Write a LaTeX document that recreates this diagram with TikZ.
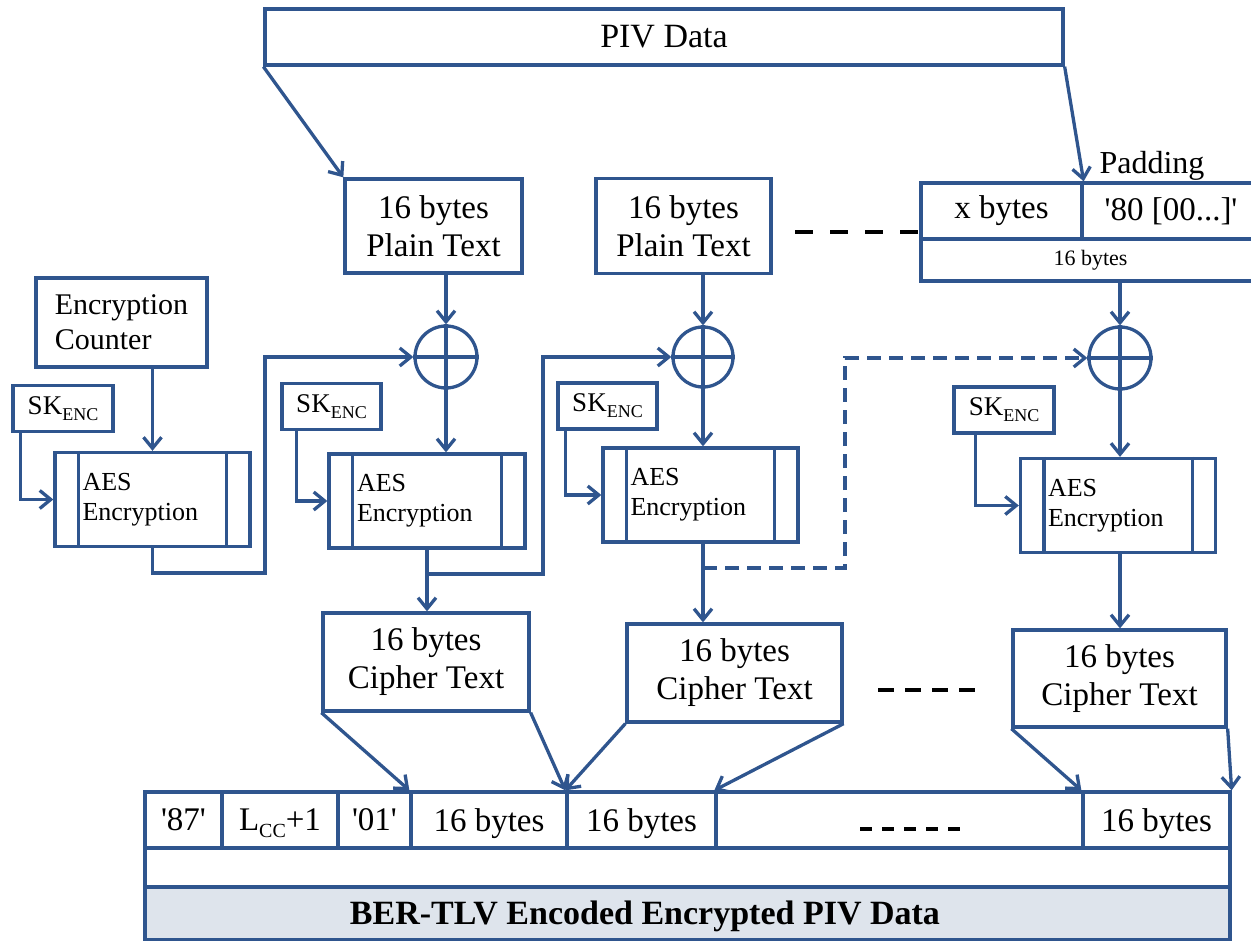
\documentclass[tikz,border=0pt]{standalone}
\usepackage{fontspec}
\setmainfont{Liberation Serif}
\usetikzlibrary{arrows.meta}
\definecolor{bl}{RGB}{47,85,142}
\definecolor{gb}{RGB}{222,228,236}
\newcommand\sq{\textquotesingle}
\newcommand\fs[2]{\fontsize{#1}{#2}\selectfont}
\begin{document}
\begin{tikzpicture}[x=1pt,y=-1pt,
  box/.style={draw=bl, line width=3.3pt, inner sep=0pt, fill=white, align=center, font=\fs{33}{38}},
  skbox/.style={box, minimum height=46pt, minimum width=100pt, font=\fs{27}{30}},
  aesbox/.style={box, minimum width=195pt, minimum height=94pt, text width=140pt, inner xsep=27.5pt, align=left, font=\fs{26}{30}},
  xorc/.style={circle, draw=bl, line width=3.3pt, minimum size=62pt, inner sep=0pt},
  cell/.style={box, minimum height=56pt, text depth=0pt},
  conn/.style={draw=bl, line width=3.3pt},
  arr/.style={conn, -{Straight Barb[length=11pt,width=18pt]}},
  bdash/.style={draw=bl, line width=3.3pt, dash pattern=on 14pt off 8pt},
  kdash/.style={draw=black, line width=3.5pt}
]
\useasboundingbox (0,0) rectangle (1251,941);

% top data block
\node[box, minimum width=798pt, minimum height=56pt, font=\fs{34}{38}] (piv) at (664,37) {PIV Data};

% plain text blocks
\node[box, minimum width=177pt, minimum height=94pt] (p1) at (433.5,226) {16 bytes\\Plain Text};
\node[box, minimum width=175pt, minimum height=95pt] (p2) at (683.5,226) {16 bytes\\Plain Text};

% padding block
\node[box, minimum width=339pt, minimum height=42pt, font=\fs{22}{26}] (pad16) at (1090.5,260) {16 bytes};
\node[box, minimum width=161pt, minimum height=56pt] (padx) at (1001.5,211) {x bytes};
\node[box, minimum width=178pt, minimum height=56pt] (pad80) at (1171,211) {\sq80 [00...]\sq};
\node[font=\fs{32}{36}, inner sep=0pt] (padlbl) at (1152,166) {Padding};

% counter
\node[box, minimum width=171pt, minimum height=89pt, align=left, font=\fs{30}{35}] (cnt) at (121.5,322.5) {Encryption\\Counter};

% key boxes
\newcommand\skenc{SK{\fs{18}{18}\raisebox{-6pt}{ENC}}}
\node[skbox] (sk1) at (63,408.5) {\skenc};
\node[skbox, minimum width=99pt] (sk2) at (331.5,406.5) {\skenc};
\node[skbox, minimum width=99pt] (sk3) at (607.5,406) {\skenc};
\node[skbox] (sk4) at (1004,410) {\skenc};

% AES blocks
\node[aesbox] (aes1) at (152.5,499.5) {AES\\Encryption};
\node[aesbox, minimum width=196pt] (aes2) at (427,501) {AES\\Encryption};
\node[aesbox] (aes3) at (700.5,495) {AES\\Encryption};
\node[aesbox, minimum width=194pt] (aes4) at (1118,505.5) {AES\\Encryption};
\foreach \a in {aes1,aes2,aes3,aes4}{
  \draw[conn] ([xshift=25pt]\a.north west) -- ([xshift=25pt]\a.south west);
  \draw[conn] ([xshift=-25pt]\a.north east) -- ([xshift=-25pt]\a.south east);
}

% XOR circles
\node[xorc] (c1) at (446,357) {};
\node[xorc, minimum size=60pt] (c2) at (703,357) {};
\node[xorc] (c3) at (1120,358) {};
\foreach \c in {c1,c2,c3}{
  \draw[conn] (\c.north) -- (\c.south) (\c.west) -- (\c.east);
}

% cipher text blocks
\node[box, minimum width=206pt, minimum height=98pt] (ct1) at (426,662) {16 bytes\\Cipher Text};
\node[box, minimum width=215pt, minimum height=98pt] (ct2) at (734.5,673) {16 bytes\\Cipher Text};
\node[box, minimum width=213pt, minimum height=97pt] (ct3) at (1119.5,678.5) {16 bytes\\Cipher Text};

% bottom TLV structure
\node[box, minimum width=1085pt, minimum height=39pt] (strip) at (687.5,867.5) {};
\node[box, minimum width=1085pt, minimum height=53pt, fill=gb] (ber) at (687.5,913.5) {};
\node[font=\fs{34}{38}\bfseries, inner sep=0pt] (bertxt) at (645,916) {BER-TLV Encoded Encrypted PIV Data};
\node[cell, minimum width=77pt] (t87) at (183.5,820) {\sq87\sq};
\node[cell, minimum width=116pt] (tL) at (280,820) {L{\fs{20}{20}\raisebox{-7pt}{CC}}+1};
\node[cell, minimum width=73pt] (t01) at (374.5,820) {\sq01\sq};
\node[cell, minimum width=156pt] (tb1) at (489,820) {16 bytes};
\node[cell, minimum width=149pt] (tb2) at (641.5,820) {16 bytes};
\node[cell, minimum width=367pt] (tdots) at (899.5,820) {};
\node[cell, minimum width=147pt] (tb3) at (1156.5,820) {16 bytes};

% black ellipsis dashes
\coordinate (d1a) at (795,232); \coordinate (d1b) at (918,232);
\draw[kdash, dash pattern=on 18pt off 17pt] (d1a) -- (d1b);
\coordinate (d2a) at (878,690); \coordinate (d2b) at (975,690);
\draw[kdash, dash pattern=on 16pt off 11pt] (d2a) -- (d2b);
\coordinate (d3a) at (860,829); \coordinate (d3b) at (960,829);
\draw[kdash, dash pattern=on 12pt off 10pt] (d3a) -- (d3b);

% connectors
\draw[arr] (piv.south west) -- (p1.north west);
\draw[arr] (piv.south east) -- (padx.north east);
\draw[arr] (p1.south -| c1) -- (c1.north);
\draw[arr] (p2.south -| c2) -- (c2.north);
\draw[arr] (pad16.south -| c3) -- (c3.north);
\draw[arr] (cnt.south -| aes1) -- (aes1.north);
\draw[arr] ([xshift=9pt]sk1.south west) |- (aes1.west);
\draw[arr] ([xshift=16pt]sk2.south west) |- (aes2.west);
\draw[arr] ([xshift=9pt]sk3.south west) |- (aes3.west);
\draw[arr] ([xshift=23pt]sk4.south west) |- (aes4.west);

\coordinate (k1) at (265,573);
\draw[arr] (aes1.south) |- (k1) |- (c1.west);
\draw[arr] (c1.south) -- (c1.south |- aes2.north);
\draw[arr] (aes2.south) -- (aes2.south |- ct1.north);
\coordinate (k2) at (543,574);
\draw[arr] (aes2.south |- k2) -- (k2) |- (c2.west);
\draw[arr] (c2.south) -- (c2.south |- aes3.north);
\draw[arr] (c2.south |- aes3.south) -- (c2.south |- ct2.north);
\coordinate (k3) at (845,568);
\draw[arr, bdash] (c2.south |- k3) -- (k3) |- (c3.west);
\draw[arr] (c3.south) -- (c3.south |- aes4.north);
\draw[arr] (c3.south |- aes4.south) -- (c3.south |- ct3.north);

\draw[arr] (ct1.south west) -- (tb1.north west);
\draw[arr] (ct1.south east) -- (tb2.north west);
\draw[arr] (ct2.south west) -- (tb2.north west);
\draw[arr] (ct2.south east) -- (tdots.north west);
\draw[arr] (ct3.south west) -- (tb3.north west);
\draw[arr] (ct3.south east) -- (tb3.north east);
\end{tikzpicture}
\end{document}
